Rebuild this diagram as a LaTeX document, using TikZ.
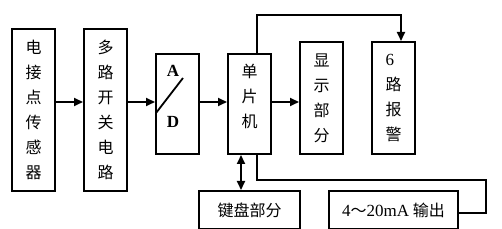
\documentclass[tikz,border=0pt]{standalone}
\usepackage{fontspec}
\setmainfont{Liberation Serif}
\newfontfamily\cjk{Noto Sans CJK SC}
\usetikzlibrary{arrows.meta,positioning,calc}

\begin{document}
\begin{tikzpicture}[
  x=1pt, y=-1pt, >={Triangle[length=9pt,width=8pt]},
  blk/.style={rectangle, draw, line width=2pt, anchor=north west, inner sep=0pt,
    minimum width=43pt, font=\cjk\fontsize{16}{25}\selectfont, align=center},
  lbl/.style={font=\bfseries\fontsize{17}{17}\selectfont},
  conn/.style={line width=1.8pt},
]
  \useasboundingbox (0,0) rectangle (502,229);
  \coordinate (mid) at (0,102);

  \node[blk, minimum height=162pt] (sensor) at (11,28) {电\\接\\点\\传\\感\\器};
  \node[blk, minimum height=162pt] (switch) at (83,28) {多\\路\\开\\关\\电\\路};
  \node[blk, minimum height=100pt] (adc) at (155,53) {};
  \node[blk, minimum height=100pt] (mcu) at (227,53) {};
  \node[blk, minimum height=112pt] (disp) at (299,41) {显\\示\\部\\分};
  \node[blk, minimum height=112pt, align=left] (alarm) at (371,41)
    {{\rmfamily\fontsize{17}{25}\selectfont 6}\\路\\报\\警};
  \node[blk, minimum width=101pt, minimum height=38pt] (kbd) at (198,190) {键盘部分};
  \node[blk, minimum width=129pt, minimum height=38pt] (outp) at (328,190)
    {{\rmfamily\fontsize{17}{25}\selectfont 4}～{\rmfamily\fontsize{17}{25}\selectfont 20mA} 输出};

  % text inside A/D and MCU
  \node[lbl] (lblA) at (173,71) {A};
  \node[lbl] (lblD) at (173,122) {D};
  \draw[line width=1.8pt] (156,113) -- (183,78);
  \node[blk, draw=none, anchor=center] (mcutxt) at ([yshift=8pt]mcu.center) {单\\片\\机};

  \draw[conn, ->] (sensor.east |- mid) -- (switch.west |- mid);
  \draw[conn, ->] (switch.east |- mid) -- (adc.west |- mid);
  \draw[conn, ->] (adc.east |- mid) -- (mcu.west |- mid);
  \draw[conn, ->] (mcu.east |- mid) -- (disp.west |- mid);
  \draw[conn, <->] ([xshift=-8.5pt]mcu.south) -- ([xshift=-8.5pt]mcu.south |- kbd.north);
  \draw[conn, ->] ([xshift=7.5pt]mcu.north) -- ++(0,-38) -| ([xshift=7.5pt]alarm.north);
  \coordinate (turn) at (486,213);
  \draw[conn] ([xshift=7.5pt]mcu.south) -- ++(0,25) -| (turn) -- (turn -| outp.east);
\end{tikzpicture}
\end{document}
